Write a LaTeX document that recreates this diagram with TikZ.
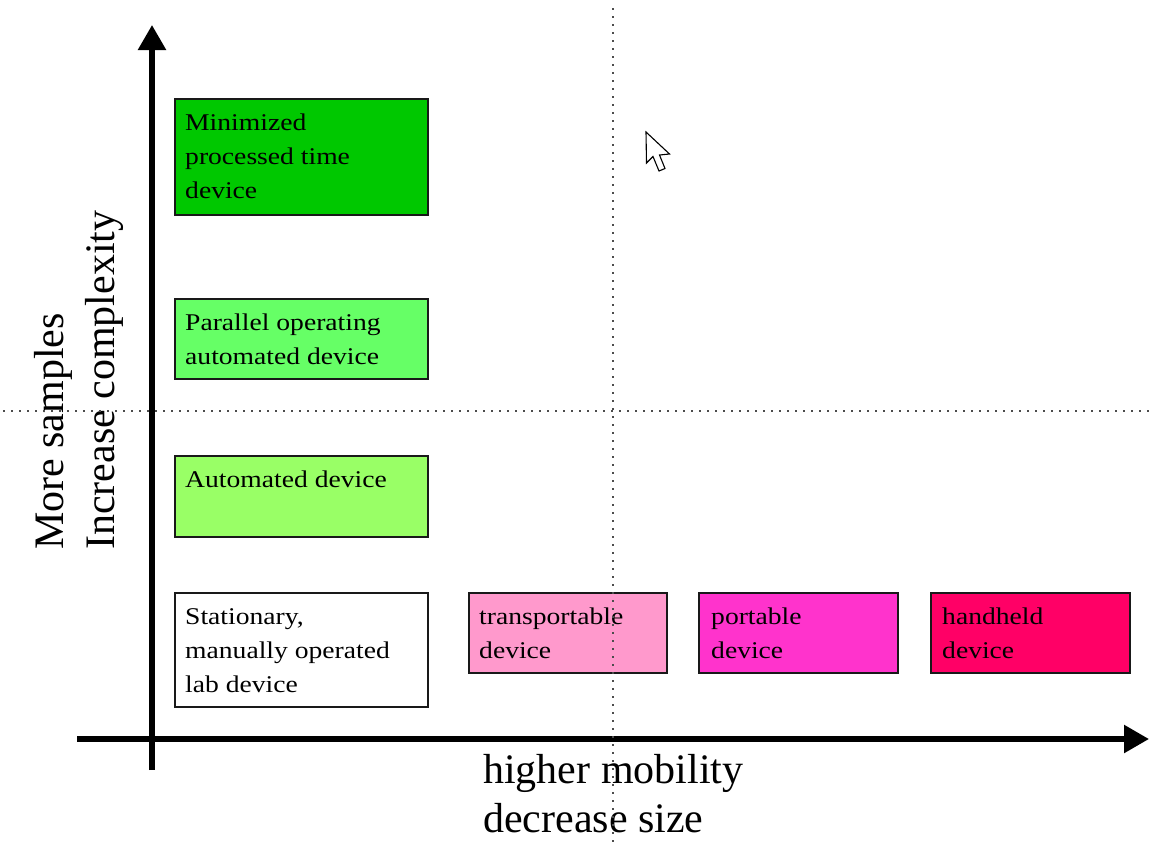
\documentclass[tikz,border=0pt]{standalone}
\usepackage{fontspec}
\setmainfont{Liberation Serif}
\newfontfamily\boxfont[FakeStretch=1.15]{Liberation Serif}
\usetikzlibrary{arrows.meta}

\definecolor{fillmin}{RGB}{0,200,0}
\definecolor{fillpar}{RGB}{102,255,102}
\definecolor{fillauto}{RGB}{153,255,102}
\definecolor{filltrans}{RGB}{255,153,204}
\definecolor{fillport}{RGB}{255,51,204}
\definecolor{fillhand}{RGB}{255,0,102}

\begin{document}
\begin{tikzpicture}[x=1pt,y=-1pt,
  devbox/.style={draw=black!90, line width=1.8pt, inner sep=0pt, anchor=north west},
  devtext/.style={anchor=north west, inner sep=0pt, align=left,
                  font=\boxfont\fontsize{24}{34}\selectfont},
  axisline/.style={line width=5.5pt, -{Triangle[length=25pt,width=27pt]}},
  guide/.style={draw=black!70, line width=1.6pt, dash pattern=on 1.6pt off 6.4pt},
  axislabel/.style={font=\fontsize{42}{50}\selectfont, inner sep=0pt}]

\useasboundingbox (0,0) rectangle (1151,847);

% device boxes
\node[devbox, fill=fillmin,   minimum width=253pt, minimum height=116pt] (bmin)   at (174,98)  {};
\node[devbox, fill=fillpar,   minimum width=253pt, minimum height=80pt]  (bpar)   at (174,298) {};
\node[devbox, fill=fillauto,  minimum width=253pt, minimum height=81pt]  (bauto)  at (174,455) {};
\node[devbox, fill=white,     minimum width=253pt, minimum height=114pt] (bstat)  at (174,592) {};
\node[devbox, fill=filltrans, minimum width=198pt, minimum height=80pt]  (btrans) at (468,592) {};
\node[devbox, fill=fillport,  minimum width=199pt, minimum height=80pt]  (bport)  at (698,592) {};
\node[devbox, fill=fillhand,  minimum width=199pt, minimum height=80pt]  (bhand)  at (930,592) {};

% box captions
\node[devtext] (tmin)   at ([shift={(11,8.2)}]bmin.north west)   {\strut Minimized\\processed time\\device};
\node[devtext] (tpar)   at ([shift={(11,8.2)}]bpar.north west)   {\strut Parallel operating\\automated device};
\node[devtext] (tauto)  at ([shift={(11,8.2)}]bauto.north west)  {\strut Automated device};
\node[devtext] (tstat)  at ([shift={(11,8.2)}]bstat.north west)  {\strut Stationary,\\manually operated\\lab device};
\node[devtext] (ttrans) at ([shift={(11,8.2)}]btrans.north west) {\strut transportable\\device};
\node[devtext] (tport)  at ([shift={(13,8.2)}]bport.north west)  {\strut portable\\device};
\node[devtext] (thand)  at ([shift={(12,8.2)}]bhand.north west)  {\strut handheld\\device};

% axes
\coordinate (ybot) at (152,770);
\coordinate (ytop) at (152,25);
\coordinate (xleft) at (77,739);
\coordinate (xright) at (1149,739);
\draw[axisline] (ybot) -- (ytop);
\draw[axisline] (xleft) -- (xright);

% axis labels
\node[axislabel, anchor=base west] (xl1) at (483,783) {higher mobility};
\node[axislabel, anchor=base west] (xl2) at (483,832) {decrease size};
\node[axislabel, rotate=90, anchor=base west] (yl1) at (63,550) {More samples};
\node[axislabel, rotate=90, anchor=base west] (yl2) at (114,550) {Increase complexity};

% dotted quadrant guides
\coordinate (vtop) at (613,8);
\coordinate (vbot) at (613,847);
\coordinate (hleft) at (3,411);
\coordinate (hright) at (1151,411);
\draw[guide] (vtop) -- (vbot);
\draw[guide] (hleft) -- (hright);

% mouse pointer
\draw[fill=white, line width=1.1pt, line join=miter]
  (646,132) -- (646.5,163) -- (653,156.5) -- (659,171) -- (665,168.5)
  -- (659.5,155) -- (669.5,154) -- cycle;
\end{tikzpicture}
\end{document}
